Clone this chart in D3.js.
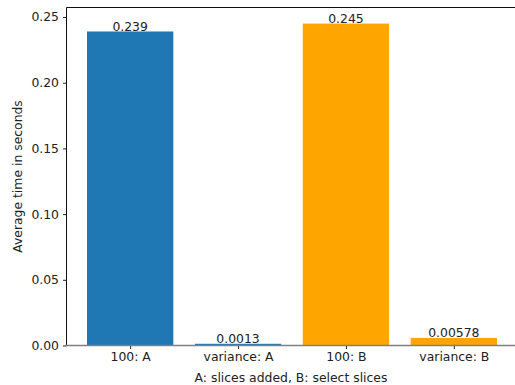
<!DOCTYPE html>
<html><head><meta charset="utf-8">
<script src="https://cdn.jsdelivr.net/npm/d3@7"></script>
<style>body{margin:0;background:#fff}svg{display:block}text{font-family:"DejaVu Sans",sans-serif}</style>
</head><body><svg id="c" width="515" height="385"></svg>
<script>
const categories = ["100: A", "variance: A", "100: B", "variance: B"];
const values = [0.239, 0.0013, 0.245, 0.00578];
const labels = ["0.239", "0.0013", "0.245", "0.00578"];
const colors = ["#1f77b4", "#1f77b4", "#ffa500", "#ffa500"];
const yTicks = [0, 0.05, 0.10, 0.15, 0.20, 0.25];

(function(){
const svg = d3.select("#c");
const fs = 12.4;
const pL = 66.5, pR = 517.5, pT = 7.5, pB = 345.5;
const x = d3.scaleLinear().domain([-0.59, 3.59]).range([pL, pR]);
const y = d3.scaleLinear().domain([0, 0.25725]).range([pB, pT]);
const bw = x(0.8) - x(0);

svg.selectAll("rect.bar").data(values).join("rect").attr("class","bar")
  .attr("x",(d,i)=>x(i)-bw/2).attr("width",bw)
  .attr("y",d=>y(d)).attr("height",d=>y(0)-y(d))
  .attr("fill",(d,i)=>colors[i]);

svg.selectAll("text.val").data(values).join("text").attr("class","val")
  .attr("x",(d,i)=>x(i)).attr("y",d=>y(d)-0.5)
  .attr("text-anchor","middle").attr("font-size",fs).attr("fill","#222")
  .text((d,i)=>labels[i]);

const ya = svg.append("g").attr("transform",`translate(${pL},0)`)
  .call(d3.axisLeft(y).tickValues(yTicks).tickFormat(d3.format(".2f")).tickSize(3.5).tickPadding(4));
ya.select(".domain").remove();
ya.selectAll("text").attr("font-size",fs).attr("fill","#222").attr("font-family","DejaVu Sans");
ya.selectAll("line").attr("stroke","#222");

const xa = svg.append("g").attr("transform",`translate(0,${pB})`)
  .call(d3.axisBottom(x).tickValues(d3.range(categories.length)).tickFormat(i=>categories[i]).tickSize(3.5).tickPadding(3));
xa.select(".domain").remove();
xa.selectAll("text").attr("font-size",fs).attr("fill","#222").attr("font-family","DejaVu Sans");
xa.selectAll("line").attr("stroke","#222");

svg.append("line").attr("x1",pL).attr("x2",pL).attr("y1",pT).attr("y2",pB).attr("stroke","#111").attr("stroke-width",1);
svg.append("line").attr("x1",pL).attr("x2",pR).attr("y1",pT).attr("y2",pT).attr("stroke","#111").attr("stroke-width",1);
svg.append("line").attr("x1",pR).attr("x2",pR).attr("y1",pT).attr("y2",pB).attr("stroke","#111").attr("stroke-width",1);
svg.append("line").attr("x1",pL-1).attr("x2",pR).attr("y1",pB).attr("y2",pB).attr("stroke","#808080").attr("stroke-width",1.5);

svg.append("text").attr("x",(pL+pR)/2 - 1).attr("y",381.5).attr("text-anchor","middle")
  .attr("font-size",fs).attr("fill","#222").text("A: slices added, B: select slices");
svg.append("text").attr("transform",`translate(21.5,${(pT+pB)/2}) rotate(-90)`).attr("text-anchor","middle")
  .attr("font-size",fs).attr("fill","#222").text("Average time in seconds");
})();
</script></body></html>
